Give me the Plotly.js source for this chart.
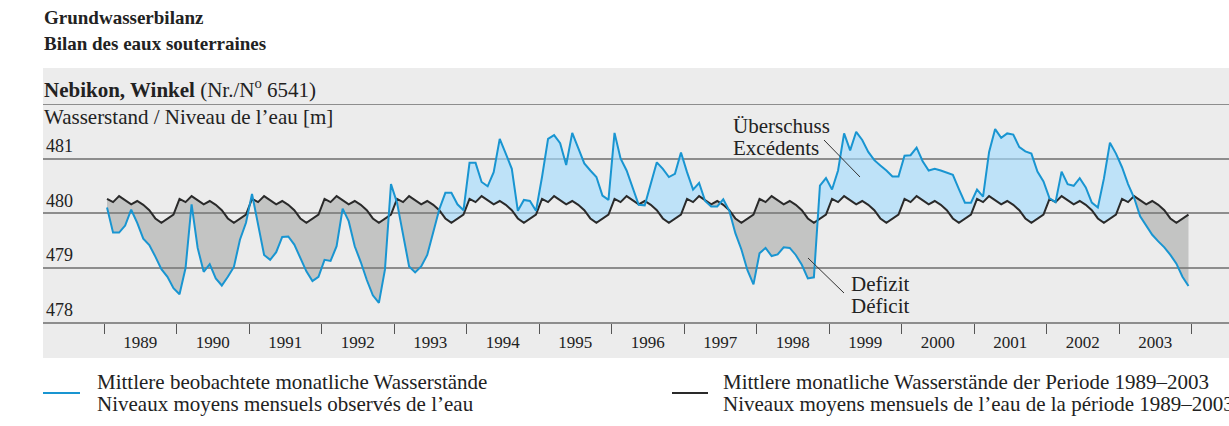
<!DOCTYPE html>
<html>
<head>
<meta charset="utf-8">
<script src="https://cdn.plot.ly/plotly-3.0.1.min.js"></script>
<style>
  html, body { margin: 0; padding: 0; background: #ffffff; }
  #chart { width: 1229px; height: 426px; }
</style>
</head>
<body>
<div id="chart"></div>
<script>
// ---- Data ----
const years = ['1989','1990','1991','1992','1993','1994','1995','1996','1997','1998','1999','2000','2001','2002','2003'];

// Mittlere beobachtete monatliche Wasserstände (Jan 1989 – Dec 2003)
const observed1989_1991 = [
  480.10, 479.64, 479.64, 479.77, 480.06, 479.82, 479.53, 479.41, 479.20, 478.97, 478.83, 478.62,
  478.51, 478.99, 480.16, 479.36, 478.92, 479.06, 478.80, 478.67, 478.83, 479.01, 479.51, 479.82,
  480.35, 479.76, 479.23, 479.14, 479.28, 479.56, 479.57, 479.42, 479.17, 478.93, 478.75, 478.83
];
const observed1992_1994 = [
  479.14, 479.12, 479.39, 480.08, 479.85, 479.39, 479.10, 478.77, 478.49, 478.35, 478.96, 480.53,
  480.19, 479.60, 479.02, 478.91, 479.02, 479.23, 479.67, 480.07, 480.37, 480.37, 480.16, 480.05,
  480.92, 480.92, 480.57, 480.49, 480.75, 481.36, 481.09, 480.81, 480.04, 480.24, 480.22, 480.04
];
const observed1995_1997 = [
  480.66, 481.36, 481.43, 481.28, 480.88, 481.47, 481.19, 480.91, 480.78, 480.66, 480.32, 480.24,
  481.47, 481.00, 480.78, 480.47, 480.15, 480.14, 480.56, 480.93, 480.81, 480.66, 480.72, 481.11,
  480.75, 480.43, 480.55, 480.22, 480.12, 480.12, 480.25, 480.04, 479.63, 479.33, 478.95, 478.69
];
const observed1998_2000 = [
  479.26, 479.36, 479.21, 479.24, 479.37, 479.36, 479.23, 479.05, 478.80, 478.82, 480.50, 480.64,
  480.43, 480.78, 481.46, 481.15, 481.49, 481.34, 481.12, 480.97, 480.87, 480.78, 480.67, 480.67,
  481.05, 481.06, 481.20, 480.95, 480.78, 480.81, 480.78, 480.74, 480.70, 480.44, 480.19, 480.19
];
const observed2001_2003 = [
  480.43, 480.30, 481.12, 481.54, 481.38, 481.46, 481.44, 481.21, 481.13, 481.09, 480.76, 480.58,
  480.27, 480.20, 480.76, 480.53, 480.50, 480.64, 480.47, 480.19, 480.10, 480.63, 481.29, 481.09,
  480.84, 480.53, 480.28, 479.94, 479.77, 479.60, 479.48, 479.37, 479.23, 479.07, 478.83, 478.66
];

// Mittlere monatliche Wasserstände der Periode 1989–2003 (Jan..Dec)
const meanMonthly = [480.26, 480.20, 480.31, 480.23, 480.16, 480.22, 480.15, 480.05, 479.90, 479.82, 479.90, 479.97];

const yTicks = [478, 479, 480, 481];
const yTickText = ['478', '479', '480', '481'];

// ---- Derived series for the library ----
const observed = [].concat(observed1989_1991, observed1992_1994, observed1995_1997, observed1998_2000, observed2001_2003);
const startYear = 1989;
const xs = observed.map((_, i) => startYear + (i + 0.5) / 12);
const mean = observed.map((_, i) => meanMonthly[i % 12]);

// dense arrays with crossing points for clean fills
const fx = [], fo = [], fm = [];
for (let i = 0; i < observed.length; i++) {
  fx.push(xs[i]); fo.push(observed[i]); fm.push(mean[i]);
  if (i < observed.length - 1) {
    const d0 = observed[i] - mean[i], d1 = observed[i + 1] - mean[i + 1];
    if (d0 * d1 < 0) {
      const t = d0 / (d0 - d1);
      const cx = xs[i] + t * (xs[i + 1] - xs[i]);
      const cy = mean[i] + t * (mean[i + 1] - mean[i]);
      fx.push(cx); fo.push(cy); fm.push(cy);
    }
  }
}
const upper = fo.map((v, k) => Math.max(v, fm[k]));
const lower = fo.map((v, k) => Math.min(v, fm[k]));

const tickCenters = years.map((y, k) => startYear + k + 0.5);
const tickBounds = years.map((y, k) => startYear + k).concat([startYear + years.length]);

// ---- Styling ----
const FONT = 'Liberation Serif, Times New Roman, serif';
const BLUE = '#1995d1';
const BLACK = '#2a2a2a';
const GRID = '#8d8d8d';
const PANEL = '#ececec';

const L = 43, R = 0, T = 104, B = 104, W = 1229, H = 426;
const PW = W - L - R, PH = H - T - B;
const px = x => (x - L) / PW;
const py = y => (H - B - y) / PH;

function ann(text, x, y, size, extra) {
  return Object.assign({
    text: text, xref: 'paper', yref: 'paper', x: px(x), y: py(y),
    xanchor: 'left', yanchor: 'middle', showarrow: false,
    font: { family: FONT, size: size, color: '#222' }
  }, extra || {});
}

const traces = [
  { x: fx, y: fm, mode: 'lines', line: { width: 0 }, hoverinfo: 'skip', showlegend: false },
  { x: fx, y: upper, mode: 'lines', line: { width: 0 }, fill: 'tonexty', fillcolor: 'rgba(163,220,255,0.63)', hoverinfo: 'skip', showlegend: false },
  { x: fx, y: fm, mode: 'lines', line: { width: 0 }, hoverinfo: 'skip', showlegend: false },
  { x: fx, y: lower, mode: 'lines', line: { width: 0 }, fill: 'tonexty', fillcolor: 'rgba(125,127,125,0.37)', hoverinfo: 'skip', showlegend: false },
  { x: xs, y: mean, mode: 'lines', line: { color: BLACK, width: 2 }, showlegend: false, name: 'Periode' },
  { x: xs, y: observed, mode: 'lines', line: { color: BLUE, width: 2 }, showlegend: false, name: 'Beobachtet' }
];

const layout = {
  width: W, height: H,
  margin: { l: L, r: R, t: T, b: B, pad: 0 },
  paper_bgcolor: '#ffffff',
  plot_bgcolor: 'rgba(0,0,0,0)',
  showlegend: false,
  xaxis: {
    range: [startYear - 61 / 72.5, startYear + 1125 / 72.5],
    tickmode: 'array', tickvals: tickCenters, ticktext: years,
    ticks: '', showgrid: false, zeroline: false,
    showline: true, linecolor: GRID, linewidth: 2,
    tickfont: { family: FONT, size: 17, color: '#222' },
    ticklabelstandoff: 4,
    minor: { tickmode: 'array', tickvals: tickBounds, ticks: 'outside', ticklen: 10, tickwidth: 1, tickcolor: '#555', showgrid: false },
    fixedrange: true
  },
  yaxis: {
    range: [478, 482],
    tickmode: 'array', tickvals: yTicks, ticktext: yTickText,
    ticklabelposition: 'inside top', ticks: '',
    showgrid: true, gridcolor: GRID, gridwidth: 2,
    zeroline: false, showline: false,
    tickfont: { family: FONT, size: 18, color: '#222' },
    fixedrange: true
  },
  shapes: [
    { type: 'rect', xref: 'paper', yref: 'paper', x0: px(43), x1: px(1240), y0: py(358), y1: py(68), fillcolor: PANEL, line: { width: 0 }, layer: 'below' },
    { type: 'line', xref: 'paper', yref: 'y', x0: 0, x1: 1, y0: 482, y1: 482, line: { color: GRID, width: 2 }, layer: 'below' },
    { type: 'line', xref: 'paper', yref: 'paper', x0: px(824), y0: py(140), x1: px(860), y1: py(177), line: { color: '#333', width: 1 } },
    { type: 'line', xref: 'paper', yref: 'paper', x0: px(808), y0: py(258), x1: px(844), y1: py(293), line: { color: '#333', width: 1 } },
    { type: 'line', xref: 'paper', yref: 'paper', x0: px(43), y0: py(393), x1: px(80), y1: py(393), line: { color: BLUE, width: 2 } },
    { type: 'line', xref: 'paper', yref: 'paper', x0: px(672), y0: py(393), x1: px(708), y1: py(393), line: { color: BLACK, width: 2 } }
  ],
  annotations: [
    ann('<b>Grundwasserbilanz</b>', 42, 18, 19),
    ann('<b>Bilan des eaux souterraines</b>', 42, 43, 19),
    ann('<b>Nebikon, Winkel</b> (Nr./N<sup>o</sup> 6541)', 42, 88, 21),
    ann('Wasserstand / Niveau de l’eau [m]', 42, 117, 21),
    ann('Überschuss', 731, 126, 21),
    ann('Excédents', 731, 148, 21),
    ann('Defizit', 849, 284, 21),
    ann('Déficit', 849, 306, 21),
    ann('Mittlere beobachtete monatliche Wasserstände', 95, 382, 21),
    ann('Niveaux moyens mensuels observés de l’eau', 95, 404, 21),
    ann('Mittlere monatliche Wasserstände der Periode 1989–2003', 721, 382, 21),
    ann('Niveaux moyens mensuels de l’eau de la période 1989–2003', 721, 404, 21)
  ]
};

Plotly.newPlot('chart', traces, layout, { staticPlot: true, displayModeBar: false });
</script>
</body>
</html>
